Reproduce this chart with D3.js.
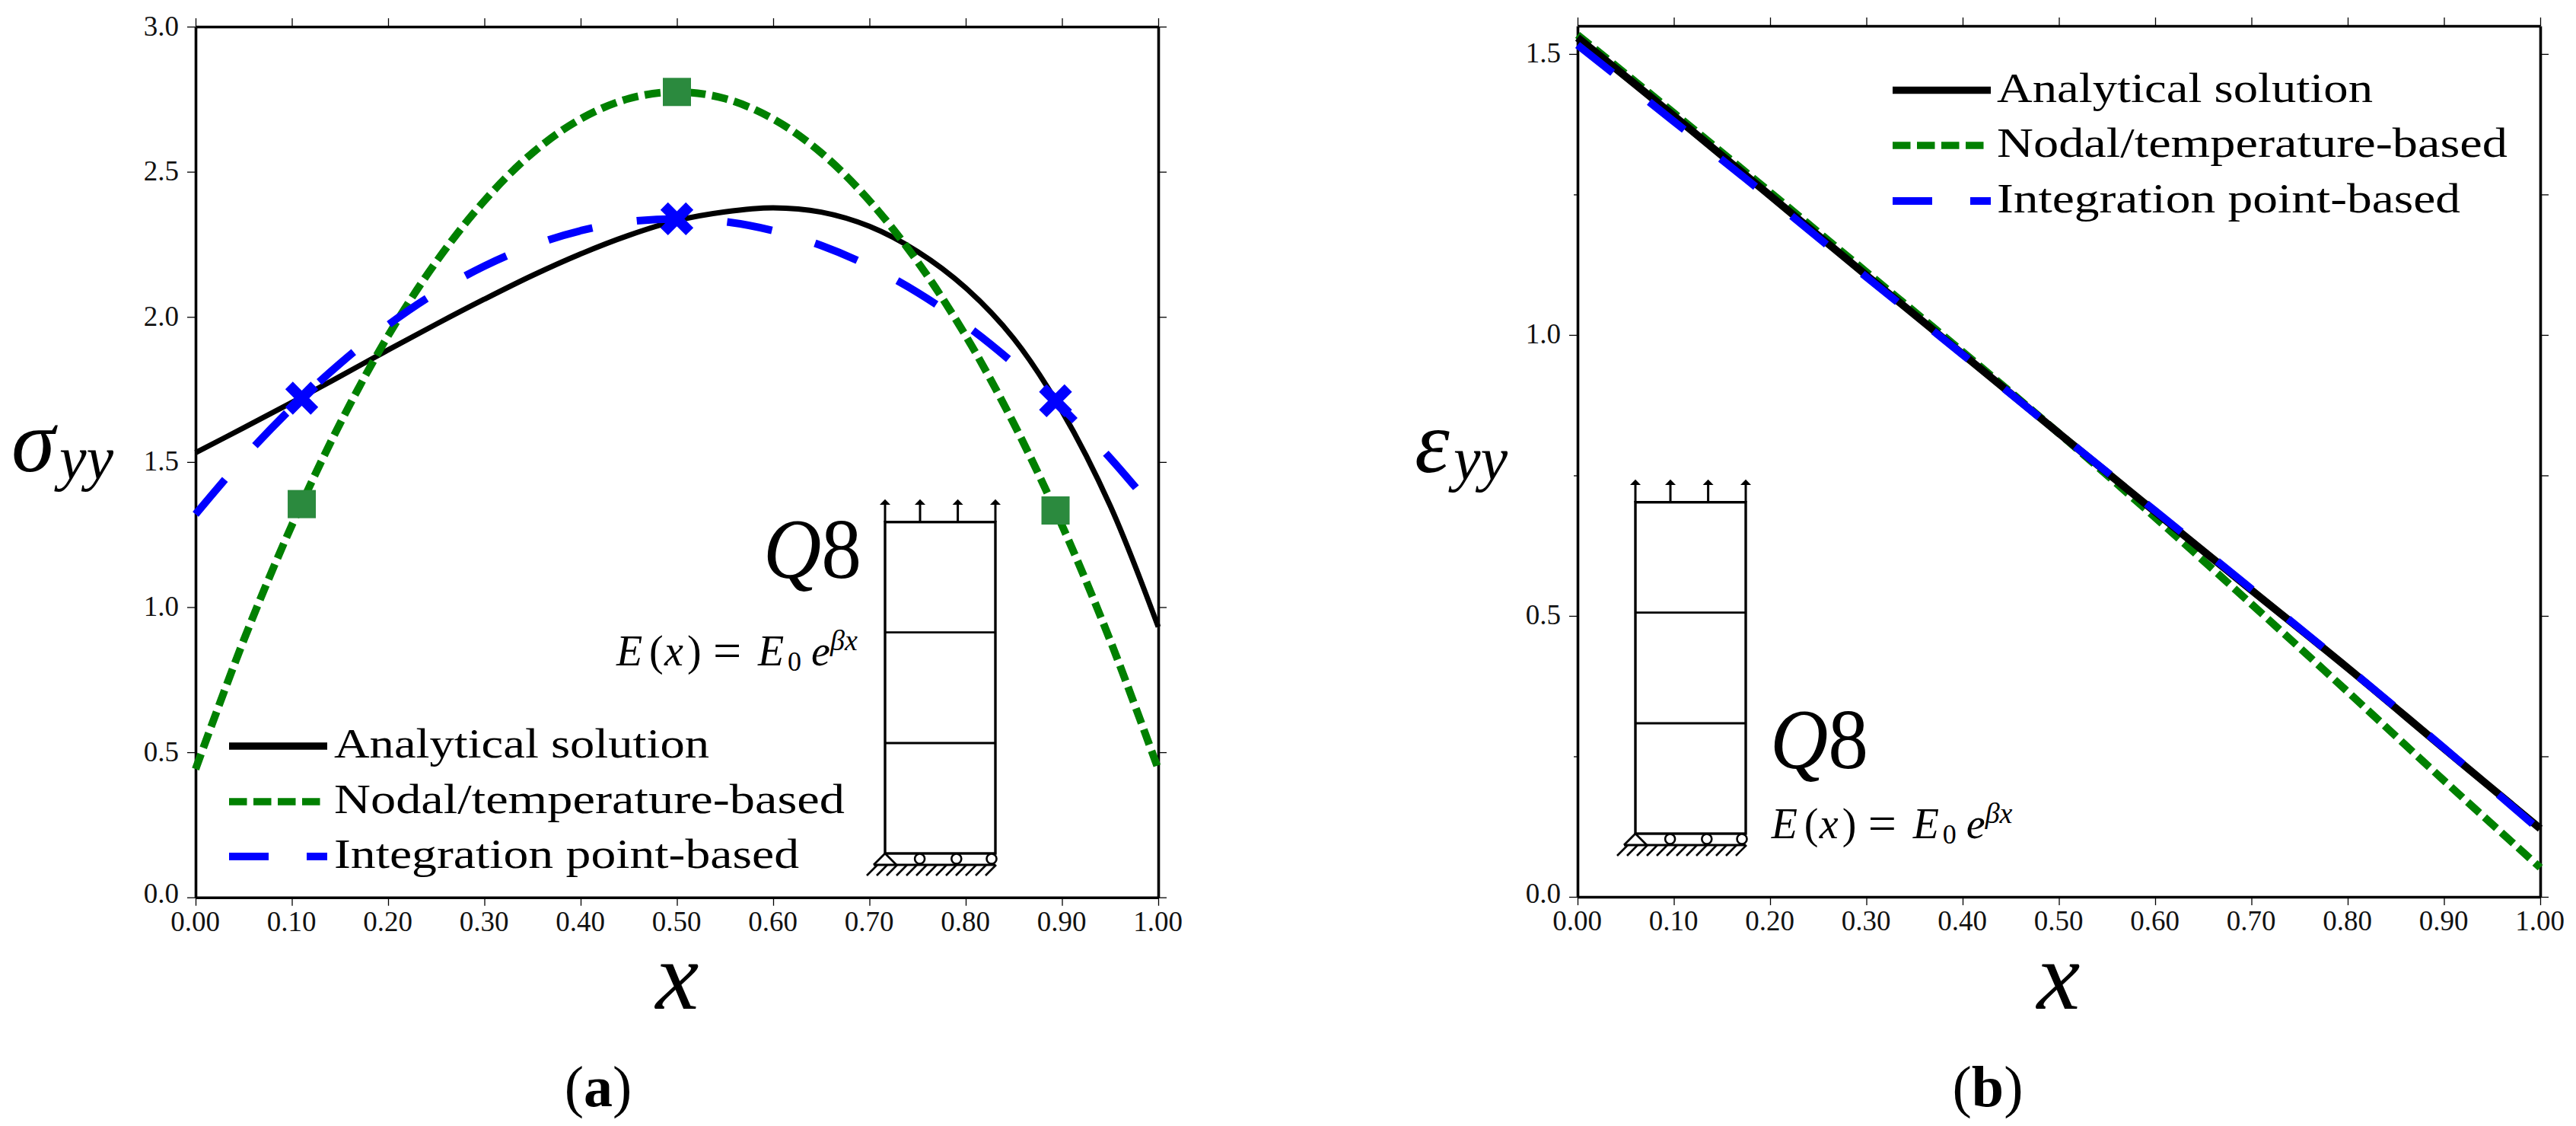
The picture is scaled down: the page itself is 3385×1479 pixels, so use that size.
<!DOCTYPE html>
<html>
<head>
<meta charset="utf-8">
<script src="https://cdn.jsdelivr.net/npm/d3@7"></script>
<style>
  html, body { margin: 0; padding: 0; background: #fff; }
  svg { display: block; }
  text { font-family: "Liberation Serif", serif; fill: #000; }
  .tick text { font-family: "Liberation Serif", serif; font-size: 37px; fill: #111; }
</style>
</head>
<body>
<script>
// values
var xTicks = [0, 0.1, 0.2, 0.3, 0.4, 0.5, 0.6, 0.7, 0.8, 0.9, 1.0];
var legendLabels = ['Analytical solution', 'Nodal/temperature-based', 'Integration point-based'];

// (a) stress
var xA = [0, 0.05, 0.1, 0.15, 0.2, 0.25, 0.3, 0.35, 0.4, 0.45, 0.5, 0.55, 0.6, 0.65, 0.7, 0.75, 0.8, 0.85, 0.9, 0.95, 1.0];
var stressExact = [1.532, 1.618, 1.705, 1.795, 1.886, 1.975, 2.061, 2.143, 2.217, 2.281, 2.332, 2.362, 2.376, 2.361, 2.312, 2.225, 2.100, 1.925, 1.675, 1.350, 0.932];
var stressNodal = [0.442, 0.886, 1.282, 1.632, 1.935, 2.190, 2.400, 2.565, 2.682, 2.752, 2.775, 2.752, 2.682, 2.565, 2.400, 2.190, 1.935, 1.632, 1.282, 0.886, 0.442];
var stressInteg = [1.320, 1.514, 1.687, 1.839, 1.972, 2.084, 2.175, 2.246, 2.297, 2.328, 2.338, 2.328, 2.297, 2.246, 2.175, 2.084, 1.972, 1.839, 1.687, 1.514, 1.320];
var gaussX = [0.1103, 0.5, 0.8933];
var nodalMarkers = [1.355, 2.775, 1.333];
var integMarkers = [1.72, 2.338, 1.711];
var yTicksA = [0, 0.5, 1.0, 1.5, 2.0, 2.5, 3.0];

// (b) strain
var xB = [0, 0.1, 0.2, 0.3, 0.4, 0.5, 0.6, 0.7, 0.8, 0.9, 1.0];
var strainExact = [1.529, 1.390, 1.248, 1.106, 0.966, 0.825, 0.685, 0.546, 0.4075, 0.264, 0.1215];
var strainNodal = [1.534, 1.395, 1.254, 1.112, 0.970, 0.825, 0.675, 0.521, 0.365, 0.207, 0.052];
var strainInteg = [1.516, 1.380, 1.243, 1.103, 0.965, 0.825, 0.687, 0.548, 0.408, 0.265, 0.118];
var yTicksB = [0, 0.25, 0.5, 0.75, 1.0, 1.25, 1.5];
var yLabelsB = [0, 0.5, 1.0, 1.5];

var BLACK = '#000', GREEN = '#008000', BLUE = '#0000ff', MARK_GREEN = '#2b8a3e';
var GREEN_DASH = '21 8.7', BLUE_DASH = '60 59', BLUE_DASH_B = '59 61';

var svg = d3.select('body').append('svg').attr('width', 3385).attr('height', 1479);
svg.append('rect').attr('width', 3385).attr('height', 1479).attr('fill', '#fff');

/** axes: thick frame, thin outward ticks on all four sides */
function drawAxes(g, x, y, yTicks, yLabels, leftShort) {
  var l = x.range()[0], w = x.range()[1], h = y.range()[0], top = y.range()[1];
  var fmtY = function(d) { return yLabels.indexOf(d) >= 0 ? d3.format('.1f')(d) : ''; };

  var bottom = g.append('g').attr('transform', 'translate(0,' + h + ')')
    .call(d3.axisBottom(x).tickValues(xTicks).tickSize(11).tickSizeOuter(0).tickPadding(4).tickFormat(d3.format('.2f')));
  bottom.selectAll('text').attr('dy', null).attr('y', 44).attr('dx', -1);

  g.append('g').attr('transform', 'translate(0,' + top + ')')
    .call(d3.axisTop(x).tickValues(xTicks).tickSize(11).tickSizeOuter(0).tickFormat(''));

  var left = g.append('g').attr('transform', 'translate(' + l + ',0)')
    .call(d3.axisLeft(y).tickValues(yTicks).tickSize(11).tickSizeOuter(0).tickFormat(fmtY));
  left.selectAll('text').attr('x', -22).attr('dy', null)
    .attr('y', function(d) { return d === 0 ? 7 : 11; });
  if (leftShort) {
    left.selectAll('.tick line').attr('x2', function(d) { return yLabels.indexOf(d) >= 0 ? -11 : -5; });
  }

  g.append('g').attr('transform', 'translate(' + w + ',0)')
    .call(d3.axisRight(y).tickValues(yTicks).tickSize(11).tickSizeOuter(0).tickFormat(''));

  g.selectAll('.domain').attr('stroke', '#000').attr('stroke-width', 3.6);
  g.selectAll('.tick line').attr('stroke', '#000').attr('stroke-width', 1.3);
}

function drawCurve(g, xs, ys, x, y, color, width, dash) {
  var line = d3.line()
    .x(function(d, i) { return x(xs[i]); })
    .y(function(d) { return y(d); })
    .curve(d3.curveCatmullRom.alpha(0.5));
  g.append('path').attr('d', line(ys))
    .attr('fill', 'none').attr('stroke', color).attr('stroke-width', width)
    .attr('stroke-dasharray', dash);
}

/** legend; the widths of the labels are forced because the metric of the font is not the one of the picture */
function drawLegend(g, x0, x1, ys, textX, widths) {
  g.append('line').attr('x1', x0).attr('x2', x1).attr('y1', ys[0]).attr('y2', ys[0])
    .attr('stroke', BLACK).attr('stroke-width', 9.5);
  g.append('line').attr('x1', x0).attr('x2', x0 + 119.5).attr('y1', ys[1]).attr('y2', ys[1])
    .attr('stroke', GREEN).attr('stroke-width', 9.5).attr('stroke-dasharray', '23.5 8.5');
  g.append('line').attr('x1', x0).attr('x2', x1).attr('y1', ys[2]).attr('y2', ys[2])
    .attr('stroke', BLUE).attr('stroke-width', 10).attr('stroke-dasharray', '52 50');
  legendLabels.forEach(function(lab, i) {
    g.append('text').attr('x', textX).attr('y', ys[i] + 15)
      .attr('font-size', 55).attr('textLength', widths[i]).attr('lengthAdjust', 'spacingAndGlyphs')
      .text(lab);
  });
}

/** y axis label: big symbol with yy subscript */
function drawYLabel(g, sym, xSym, xSub, base) {
  g.append('text').attr('x', xSym).attr('y', base).attr('font-size', 116).attr('font-style', 'italic').attr('fill', '#222').text(sym);
  g.append('text').attr('x', xSub).attr('y', base + 10).attr('font-size', 80).attr('font-style', 'italic').attr('fill', '#222').text('yy');
}

function drawXLabel(g, cx) {
  g.append('text').attr('x', cx).attr('y', 1325).attr('text-anchor', 'middle')
    .attr('font-size', 128).attr('font-style', 'italic').attr('fill', '#222').text('x');
}

function drawCaption(g, cx, letter) {
  var t = g.append('text').attr('x', cx).attr('y', 1453).attr('text-anchor', 'middle').attr('font-size', 76);
  t.append('tspan').text('(');
  t.append('tspan').attr('font-weight', 'bold').text(letter);
  t.append('tspan').text(')');
}

/** the small sketch of the column; dx, dy move it from its place in panel (a) */
function drawSketch(g, dx, dy) {
  var s = g.append('g').attr('transform', 'translate(' + dx + ',' + dy + ')')
    .attr('stroke', '#000').attr('fill', 'none');
  s.append('rect').attr('x', 1163).attr('y', 685.7).attr('width', 145).attr('height', 435.3).attr('stroke-width', 3.4);
  [830.7, 976].forEach(function(yy) {
    s.append('line').attr('x1', 1163).attr('x2', 1308).attr('y1', yy).attr('y2', yy).attr('stroke-width', 2.8);
  });
  [1163, 1209, 1258.6, 1308].forEach(function(ax) {
    s.append('line').attr('x1', ax).attr('x2', ax).attr('y1', 685.7).attr('y2', 660).attr('stroke-width', 3);
    s.append('path').attr('d', 'M' + ax + ',655.7L' + (ax + 7) + ',663L' + (ax - 7) + ',663Z')
      .attr('fill', '#000').attr('stroke', 'none');
  });
  // pin, rollers, ground
  s.append('path').attr('d', 'M1148,1136L1163,1121L1178,1136').attr('stroke-width', 2.8);
  s.append('line').attr('x1', 1148).attr('x2', 1308).attr('y1', 1136).attr('y2', 1136).attr('stroke-width', 2.8);
  [1208.6, 1256.8, 1303].forEach(function(cx) {
    s.append('circle').attr('cx', cx).attr('cy', 1128).attr('r', 6.5).attr('fill', '#fff').attr('stroke-width', 2.6);
  });
  d3.range(13).forEach(function(i) {
    var hx = 1139 + i * 13;
    s.append('line').attr('x1', hx).attr('y1', 1150).attr('x2', hx + 14).attr('y2', 1136).attr('stroke-width', 2.6);
  });
}

/** Q8 and the modulus formula, each piece placed by its own x */
function drawModel(g, qx, qBase, ex, eBase) {
  var q = g.append('text').attr('x', qx).attr('y', qBase).attr('font-size', 112)
    .attr('textLength', 129).attr('lengthAdjust', 'spacingAndGlyphs');
  q.append('tspan').attr('font-style', 'italic').text('Q');
  q.append('tspan').text('8');

  var parts = [
    {t: 'E', o: 0, it: true}, {t: '(', o: 43}, {t: 'x', o: 63, it: true}, {t: ')', o: 93},
    {t: '=', o: 127, sz: 66, dy: 3}, {t: 'E', o: 186, it: true}, {t: '0', o: 225, sz: 36, dy: 7},
    {t: 'e', o: 256, it: true}, {t: 'βx', o: 281, sz: 38, dy: -20, it: true}
  ];
  parts.forEach(function(p) {
    g.append('text').attr('x', ex + p.o).attr('y', eBase + (p.dy || 0))
      .attr('font-size', p.sz || 56).attr('font-style', p.it ? 'italic' : 'normal').text(p.t);
  });
}

/** A. panel (a) */
var xScaleA = d3.scaleLinear().domain([0, 1]).range([257, 1522]);
var yScaleA = d3.scaleLinear().domain([0, 3]).range([1178.7, 35]);
var panelA = svg.append('g');
drawAxes(panelA, xScaleA, yScaleA, yTicksA, yTicksA, false);
drawCurve(panelA, xA, stressExact, xScaleA, yScaleA, BLACK, 7);
drawCurve(panelA, xA, stressNodal, xScaleA, yScaleA, GREEN, 10, GREEN_DASH);
drawCurve(panelA, xA, stressInteg, xScaleA, yScaleA, BLUE, 10, BLUE_DASH);

panelA.selectAll('rect.nodal').data(nodalMarkers).enter().append('rect')
  .attr('class', 'nodal')
  .attr('x', function(d, i) { return xScaleA(gaussX[i]) - 18.5; })
  .attr('y', function(d) { return yScaleA(d) - 18.5; })
  .attr('width', 37).attr('height', 37).attr('fill', MARK_GREEN);

panelA.selectAll('path.integ').data(integMarkers).enter().append('path')
  .attr('class', 'integ')
  .attr('transform', function(d, i) { return 'translate(' + xScaleA(gaussX[i]) + ',' + yScaleA(d) + ')'; })
  .attr('d', 'M-16.7,-16.7L16.7,16.7M-16.7,16.7L16.7,-16.7')
  .attr('stroke', BLUE).attr('stroke-width', 14).attr('fill', 'none');

drawLegend(panelA, 301, 430, [980, 1053, 1125], 439, [493, 671, 611]);
drawYLabel(panelA, 'σ', 15, 78, 619);
drawXLabel(panelA, 890);
drawCaption(panelA, 786, 'a');
drawSketch(panelA, 0, 0);
drawModel(panelA, 1003, 758.6, 810, 873.6);

/** B. panel (b) */
var xScaleB = d3.scaleLinear().domain([0, 1]).range([2073, 3338]);
var yScaleB = d3.scaleLinear().domain([0, 1.55]).range([1178, 34]);
var panelB = svg.append('g');
drawAxes(panelB, xScaleB, yScaleB, yTicksB, yLabelsB, true);
drawCurve(panelB, xB, strainNodal, xScaleB, yScaleB, GREEN, 10, GREEN_DASH);
drawCurve(panelB, xB, strainExact, xScaleB, yScaleB, BLACK, 10);
drawCurve(panelB, xB, strainInteg, xScaleB, yScaleB, BLUE, 10, BLUE_DASH_B);

drawLegend(panelB, 2487, 2616, [118.5, 191, 264], 2624, [494, 671, 609]);
drawYLabel(panelB, 'ε', 1859, 1910, 620);
drawXLabel(panelB, 2705);
drawCaption(panelB, 2612, 'b');
drawSketch(panelB, 986, -26);
drawModel(panelB, 2326, 1008.8, 2327.7, 1101.3);
</script>
</body>
</html>
